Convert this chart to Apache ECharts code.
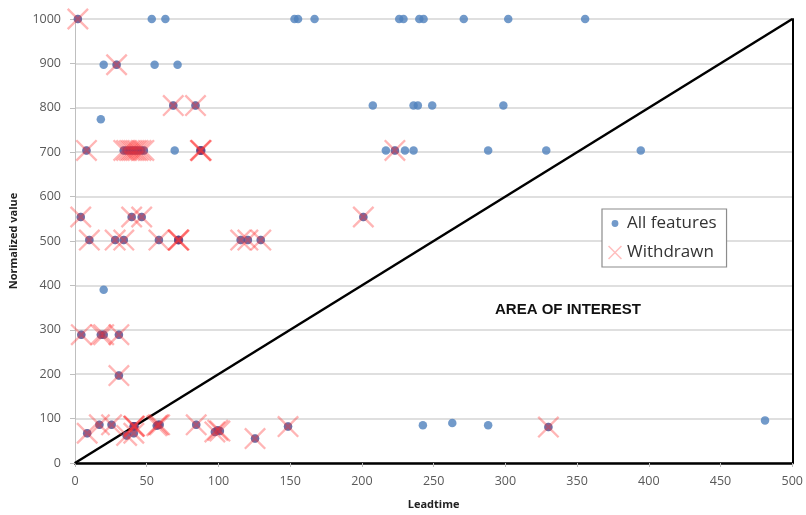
<!DOCTYPE html>
<html>
<head>
<meta charset="utf-8">
<script src="https://cdn.jsdelivr.net/npm/echarts@6/dist/echarts.min.js"></script>
<style>
html,body{margin:0;padding:0;background:#fff;}
#chart{width:806px;height:515px;}
</style>
</head>
<body>
<div id="chart"></div>
<script>
// Points that are only in "All features" (not withdrawn)
var featuresOnly = [
  [53.5,1000],[63,1000],[153,1000],[155.5,1000],[167,1000],[226,1000],[229,1000],[240,1000],[243,1000],[271,1000],[302,1000],[355.6,1000],
  [20,897],[55.5,897],[71.5,897],
  [18,774],[207.6,805],[236,805],[239,805],[249,805],[298.6,805],
  [69.5,704],[216.7,704],[230,704],[236,704],[288,704],[328.5,704],[394.4,704],
  [20,390],
  [242.5,85],[263,90],[288,85],[481,96]
];
// Withdrawn features (also part of All features)
var withdrawn = [
  [2,1000],[29,897],[68.5,805],[84,805],[8,704],
  [34,704],[36,704],[38,704],[39.5,704],[41,704],[42.5,704],[44,704],[46,704],[48,704],
  [87.5,704],[87.5,704],[88,704],
  [223,704],
  [4,554],[39.5,554],[46.5,554],[201,554],
  [10,502],[28,502],[34,502],[58.5,502],[72,502],[72,502],[72.5,502],[115.5,502],[120.5,502],[129.5,502],
  [4.4,289],[18,289],[20,289],[30.6,289],
  [30.6,197],
  [8.5,67],[17,86],[25.5,86],[41,83],[41,83],[41.5,83],[41,67],[36,62],
  [58,86],[59,86],[57,84],[84.5,86],[97.5,70],[99.5,74],[101,72],[125.5,55],[148.5,82],[330,81]
];
var diagonal = [[0,0],[500,1000]];
var xTicks = {min:0, max:500, step:50};
var yTicks = {min:0, max:1000, step:100};

var allFeatures = featuresOnly.concat(withdrawn);

var xPath = 'path://M0,1.5 L1.5,0 L20,18.5 L18.5,20 Z M18.5,0 L20,1.5 L1.5,20 L0,18.5 Z';
var dotIcon = 'image://data:image/svg+xml;utf8,' + encodeURIComponent(
  '<svg xmlns="http://www.w3.org/2000/svg" width="14" height="14"><circle cx="7" cy="7" r="3.4" fill="#4F81BD"/></svg>');

var chart = echarts.init(document.getElementById('chart'));
chart.setOption({
  animation: false,
  backgroundColor: '#fff',
  grid: {left: 73, right: 13, top: 19, bottom: 50},
  xAxis: {
    type: 'value', min: xTicks.min, max: xTicks.max, interval: xTicks.step,
    name: 'Leadtime', nameLocation: 'middle', nameGap: 36,
    nameTextStyle: {fontFamily: 'Open Sans', fontWeight: 'bold', fontSize: 11, color: '#222'},
    axisLine: {show: true, onZero: false, lineStyle: {color: '#000', width: 2.5}},
    axisTick: {show: true, length: 4, lineStyle: {color: '#bbb'}},
    axisLabel: {fontFamily: 'Open Sans', fontSize: 12.5, color: '#595959', margin: 12},
    splitLine: {show: false}
  },
  yAxis: [{
    type: 'value', min: yTicks.min, max: yTicks.max, interval: yTicks.step,
    name: 'Normalized value', nameLocation: 'middle', nameGap: 56, nameRotate: 90,
    nameTextStyle: {fontFamily: 'Open Sans', fontWeight: 'bold', fontSize: 11, color: '#222'},
    axisLine: {show: true, lineStyle: {color: '#bfbfbf', width: 1}},
    axisTick: {show: true, length: 5, lineStyle: {color: '#bfbfbf'}},
    axisLabel: {fontFamily: 'Open Sans', fontSize: 12.5, color: '#595959', margin: 14,
      formatter: function (v) { return String(v); }},
    splitLine: {show: true, lineStyle: {color: '#d4d4d4', width: 1.5}}
  }, {
    type: 'value', min: yTicks.min, max: yTicks.max, interval: yTicks.step, position: 'right',
    axisLine: {show: true, lineStyle: {color: '#000', width: 2}},
    axisTick: {show: false}, axisLabel: {show: false}, splitLine: {show: false}
  }],
  legend: {
    orient: 'vertical', left: 602, top: 209,
    backgroundColor: '#fff', borderColor: '#8c8c8c', borderWidth: 1.2, borderRadius: 0,
    padding: [6, 10, 6, 6], itemGap: 12, itemWidth: 14, itemHeight: 14,
    textStyle: {fontFamily: 'Open Sans', fontSize: 17, color: '#333'},
    data: [
      {name: 'All features', icon: dotIcon},
      {name: 'Withdrawn', icon: xPath, itemStyle: {color: 'rgba(255,120,120,0.6)'}}
    ]
  },
  graphic: [{
    type: 'text', left: 495, top: 302, z: 10,
    style: {text: 'AREA OF INTEREST', font: 'bold 15px "Liberation Sans"', fill: '#111'}
  }],
  series: [
    {
      type: 'line', name: 'diag', data: diagonal, symbol: 'none', silent: true, z: 1,
      lineStyle: {color: '#000', width: 2.5}
    },
    {
      type: 'scatter', name: 'All features', data: allFeatures, symbol: 'circle', symbolSize: 8.5, z: 2,
      itemStyle: {color: '#4F81BD'}
    },
    {
      type: 'scatter', name: 'withdrawn-core', data: withdrawn, symbol: 'circle', symbolSize: 8.5, z: 3,
      itemStyle: {color: 'rgba(120,50,110,0.55)'}
    },
    {
      type: 'scatter', name: 'Withdrawn', data: withdrawn, symbol: xPath, symbolSize: 22, z: 4,
      itemStyle: {color: 'rgba(255,50,50,0.45)'}
    }
  ]
});
</script>
</body>
</html>
